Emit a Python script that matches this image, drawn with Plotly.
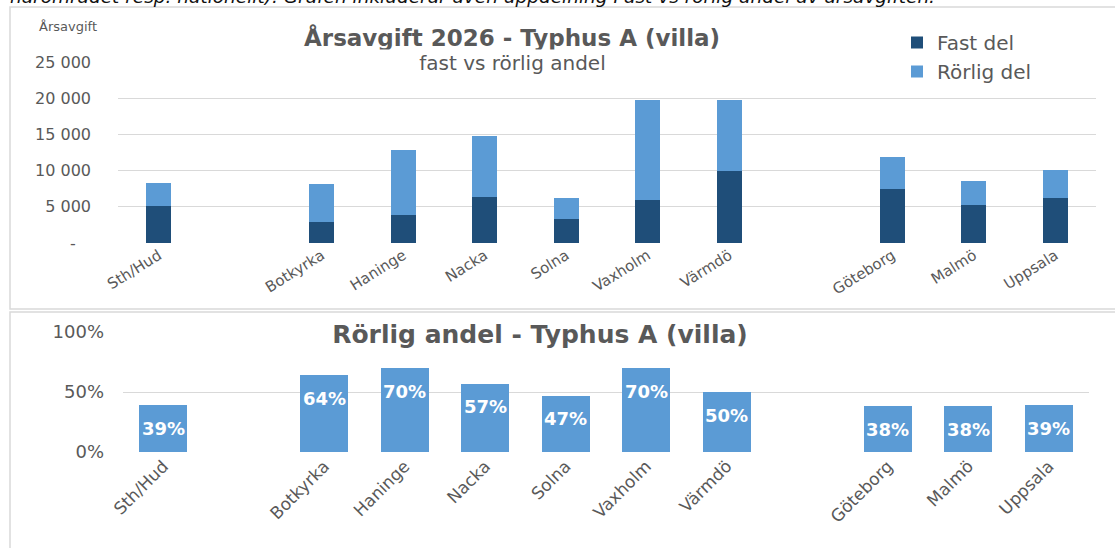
import plotly.graph_objects as go

W, H = 1115, 548

categories = ["Sth/Hud", " ", "Botkyrka", "Haninge", "Nacka", "Solna", "Vaxholm",
              "Värmdö", "  ", "Göteborg", "Malmö", "Uppsala"]
fast_del = [5050, None, 2900, 3850, 6400, 3300, 6000, 9900, None, 7400, 5300, 6150]
rorlig_del = [3250, None, 5200, 8950, 8400, 2900, 13800, 9900, None, 4500, 3250, 3930]
rorlig_andel = [39, None, 64, 70, 57, 47, 70, 50, None, 38, 38, 39]
y_ticks_top = [0, 5000, 10000, 15000, 20000, 25000]
y_ticktext_top = ["-\u00a0\u00a0\u00a0", "5 000", "10 000", "15 000", "20 000", "25 000"]
y_ticks_bottom = [0, 0.5, 1.0]
y_ticktext_bottom = ["0%", "50%", "100%"]

DARK = "#1F4E79"
LIGHT = "#5B9BD5"
GRID = "#D9D9D9"
TXT = "#595959"
FONT = "DejaVu Sans"


def px_x(x):
    return x / W


def px_y(y):
    return (H - y) / H


fig = go.Figure()
fig.add_trace(go.Bar(x=categories, y=fast_del, name="Fast del", marker_color=DARK,
                     width=0.31, xaxis="x", yaxis="y", legendgroup="a"))
fig.add_trace(go.Bar(x=categories, y=rorlig_del, name="Rörlig del", marker_color=LIGHT,
                     width=0.31, xaxis="x", yaxis="y", legendgroup="b"))
fig.add_trace(go.Bar(x=categories, y=[None if v is None else v / 100 for v in rorlig_andel],
                     marker_color=LIGHT, width=0.6, xaxis="x2", yaxis="y2",
                     showlegend=False))

annotations = []
for c, v in zip(categories, rorlig_andel):
    if v is None:
        continue
    annotations.append(dict(x=c, y=v / 100, xref="x2", yref="y2", text=f"<b>{v}%</b>",
                            showarrow=False, yshift=-23, xanchor="center", yanchor="middle",
                            font=dict(family=FONT, size=18, color="white")))

# cut-off text line at very top
annotations.append(dict(x=px_x(8), y=px_y(-3), xref="paper", yref="paper", xanchor="left",
                        yanchor="middle", showarrow=False,
                        text="<i>närområdet resp. nationellt). Grafen inkluderar även uppdelning Fast vs rörlig andel av årsavgiften.</i>",
                        font=dict(family="DejaVu Sans", size=18.5, color="#111111")))
annotations.append(dict(x=px_x(68), y=px_y(27), xref="paper", yref="paper", showarrow=False,
                        xanchor="center", yanchor="middle",
                        text="Årsavgift", font=dict(family=FONT, size=13, color=TXT)))
annotations.append(dict(x=px_x(512), y=px_y(38), xref="paper", yref="paper", showarrow=False,
                        xanchor="center", yanchor="middle",
                        text="<b>Årsavgift 2026 - Typhus A (villa)</b>",
                        font=dict(family=FONT, size=23, color=TXT)))
annotations.append(dict(x=px_x(512), y=px_y(63), xref="paper", yref="paper", showarrow=False,
                        xanchor="center", yanchor="middle",
                        text="fast vs rörlig andel", bgcolor="white", width=455, height=24,
                        font=dict(family=FONT, size=20, color=TXT)))
annotations.append(dict(x=px_x(540), y=px_y(334), xref="paper", yref="paper", showarrow=False,
                        xanchor="center", yanchor="middle",
                        text="<b>Rörlig andel - Typhus A (villa)</b>", bgcolor="white",
                        width=426,
                        font=dict(family=FONT, size=25, color=TXT)))

shapes = [
    dict(type="rect", xref="paper", yref="paper", x0=px_x(10), x1=1.01, y0=px_y(309), y1=px_y(7),
         line=dict(color=GRID, width=1.5), layer="below"),
    dict(type="rect", xref="paper", yref="paper", x0=px_x(10), x1=1.01, y0=-0.02, y1=px_y(312),
         line=dict(color=GRID, width=1.5), layer="below"),
]

fig.update_layout(
    template="none",
    width=W, height=H, autosize=False,
    margin=dict(l=0, r=0, t=0, b=0, pad=0, autoexpand=False),
    paper_bgcolor="white", plot_bgcolor="white",
    barmode="stack",
    font=dict(family=FONT, color=TXT),
    xaxis=dict(domain=[px_x(118), px_x(1096)], anchor="y", type="category",
               categoryarray=categories, categoryorder="array", automargin=False,
               tickangle=-32, tickfont=dict(size=15, color=TXT), showgrid=False,
               showline=False, ticks="", zeroline=False),
    yaxis=dict(domain=[px_y(243), px_y(62)], anchor="x", range=[0, 25000], automargin=False,
               tickvals=y_ticks_top, ticktext=y_ticktext_top, ticks="",
               tickfont=dict(size=16, color=TXT), gridcolor=GRID, gridwidth=1.3,
               zeroline=False, showline=False, ticklabelstandoff=26),
    xaxis2=dict(domain=[px_x(123), px_x(1089)], anchor="y2", type="category",
                categoryarray=categories, categoryorder="array", automargin=False,
                tickangle=-45, tickfont=dict(size=17, color=TXT), showgrid=False,
                showline=False, ticks="", zeroline=False),
    yaxis2=dict(domain=[px_y(452), px_y(332)], anchor="x2", range=[0, 1.0], automargin=False,
                tickvals=y_ticks_bottom, ticktext=y_ticktext_bottom, ticks="",
                tickfont=dict(size=18, color=TXT), gridcolor=GRID, gridwidth=1.3,
                zeroline=False, showline=False, ticklabelstandoff=18),
    legend=dict(x=px_x(897), y=px_y(23), xanchor="left", yanchor="top",
                bgcolor="white", font=dict(family=FONT, size=20, color=TXT),
                traceorder="grouped", tracegroupgap=0, itemwidth=30),
    annotations=annotations,
    shapes=shapes,
)

fig.write_html("out.html", config={"displayModeBar": False},
               post_script="document.body.style.margin='0';")
